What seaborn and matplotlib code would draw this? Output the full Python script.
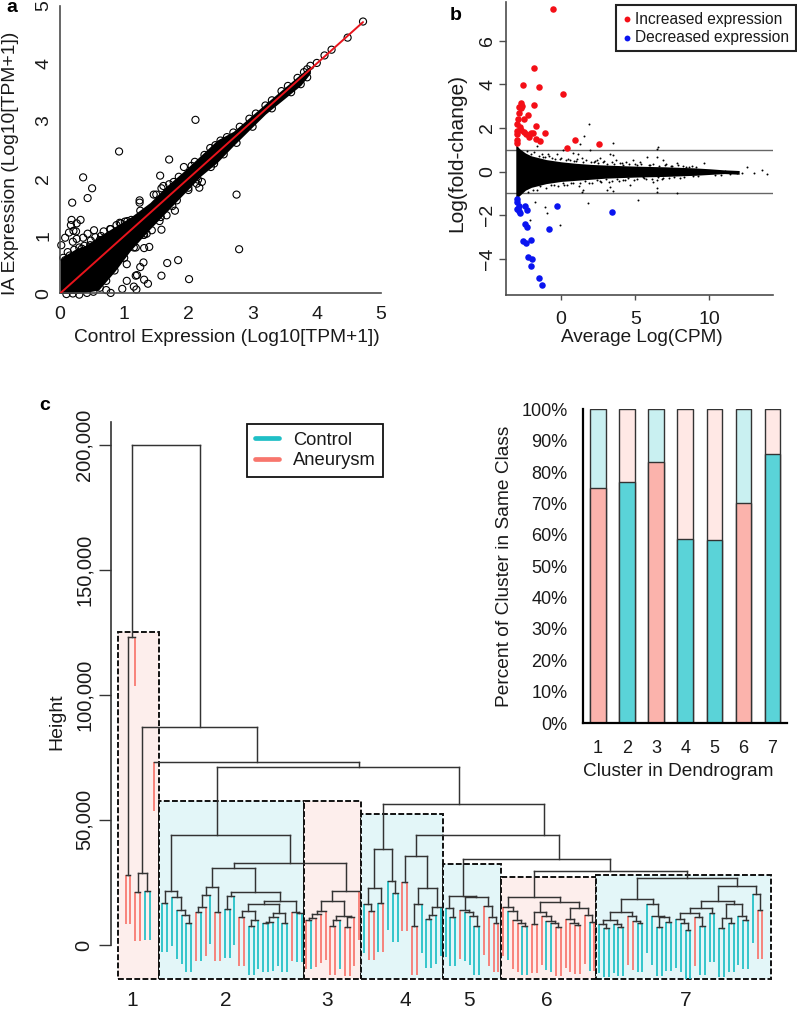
import matplotlib
matplotlib.use('Agg')
import matplotlib.pyplot as plt
import matplotlib.transforms as mtrans
from matplotlib.lines import Line2D
from matplotlib.patches import Rectangle
import seaborn as sns

W, H = 797, 1009

# Panel a: genes away from the diagonal band
a_out_x = [4.72, 4.48, 4.23, 4.12, 4.00, 2.11, 0.92, 1.70, 2.34, 2.10, 1.93, 1.56, 0.36, 0.50, 0.43, 0.19,
           1.46, 1.24, 1.24, 1.61, 1.58, 1.77, 2.75, 2.21, 2.13, 2.17, 2.00, 2.40, 1.79, 1.82, 1.66, 1.57,
           1.58, 2.79, 1.84, 1.67, 1.58, 2.01, 1.39, 1.31, 1.18, 1.04, 1.30, 1.25, 1.20, 1.18, 1.31, 1.37,
           1.04, 0.97, 1.15, 1.19, 0.79, 0.72, 0.18, 0.32, 0.26, 0.17, 0.21, 0.25, 0.14, 0.08, 0.02, 0.26,
           0.36, 0.53, 0.43, 0.79, 0.64, 0.93, 1.01, 0.88, 0.47, 0.34, 0.20, 1.35, 1.31, 1.43, 1.38, 1.51,
           1.61, 1.18, 1.11, 0.62, 1.09]
a_out_y = [4.73, 4.45, 4.24, 4.14, 4.01, 3.02, 2.47, 2.33, 2.53, 2.29, 2.20, 2.05, 2.02, 1.83, 1.66, 1.58,
           1.72, 1.62, 1.58, 1.87, 1.83, 1.94, 1.72, 1.94, 1.91, 1.84, 1.84, 2.26, 1.44, 1.62, 1.36, 1.33,
           1.11, 0.77, 0.58, 0.53, 0.31, 0.25, 0.81, 0.79, 0.80, 0.51, 0.54, 0.46, 0.32, 0.31, 0.24, 0.17,
           0.22, 0.08, 0.12, 0.07, 0.01, 0.06, 1.28, 1.28, 1.22, 1.19, 1.09, 1.08, 1.06, 0.97, 0.84, 0.95,
           0.97, 1.10, 1.04, 1.12, 1.00, 1.23, 1.25, 1.19, 0.84, 0.78, 0.90, 1.04, 1.02, 1.10, 1.22, 1.48,
           1.51, 1.28, 1.28, 0.93, 1.16]

# Panel a: circles sitting on the edges of the band
a_edge_x = [0.05, 0.08, 0.12, 0.15, 0.22, 0.30, 0.38, 0.48, 0.55, 0.68, 0.78, 0.95, 1.05, 1.25, 1.50, 1.70, 1.85,
            2.05, 2.25, 2.42, 2.50, 2.60, 2.70, 2.80, 2.95, 3.05, 3.20, 3.30, 3.45, 3.55, 3.70, 3.80, 3.85, 3.90,
            0.10, 0.20, 0.30, 0.42, 0.52, 0.62, 0.72, 0.85, 1.00, 1.15, 1.30, 1.55, 1.75, 2.00, 2.15, 2.35, 2.55,
            2.75, 3.00, 3.30, 3.60, 3.75, 3.85]
a_edge_y = [0.62, 0.58, 0.72, 0.66, 0.76, 0.80, 0.83, 0.92, 0.98, 1.08, 1.12, 1.22, 1.26, 1.44, 1.72, 1.90, 2.03,
            2.22, 2.41, 2.58, 2.66, 2.72, 2.80, 2.90, 3.04, 3.13, 3.27, 3.36, 3.52, 3.61, 3.75, 3.85, 3.90, 3.96,
            -0.01, 0.00, -0.02, 0.01, 0.03, 0.10, 0.22, 0.40, 0.62, 0.80, 1.02, 1.26, 1.52, 1.80, 1.98, 2.20, 2.42,
            2.62, 2.90, 3.22, 3.50, 3.64, 3.76]

# Panel a: outline of the solid band of overlapping circles
a_band_x = [0, 0.10, 0.25, 0.40, 0.60, 0.85, 1.10, 1.40, 1.65, 1.90, 2.20, 2.45, 2.70, 3.20, 3.75, 3.90]
a_band_up = [0.60, 0.68, 0.78, 0.84, 0.99, 1.16, 1.33, 1.58, 1.86, 2.10, 2.41, 2.67, 2.82, 3.30, 3.82, 3.96]
a_band_lo = [0, 0, 0, 0.02, 0.06, 0.38, 0.75, 1.12, 1.41, 1.70, 2.05, 2.28, 2.57, 3.12, 3.62, 3.83]

# Panel b: significant genes
up_x = [-0.56, -1.84, -2.54, -1.46, 0.11, -1.80, -2.67, -2.63, -2.83, -2.72, -2.20, -2.81, -2.47, -2.88, -2.94,
        -1.66, -2.76, -2.99, -2.99, -2.70, -2.47, -2.36, -1.91, -2.04, -2.13, -1.10, -1.66, -1.42, -2.94, -2.97,
        0.97, 2.54, 0.38]
up_y = [7.45, 4.73, 3.98, 3.86, 3.56, 3.04, 3.16, 3.01, 2.95, 2.90, 2.61, 2.67, 2.40, 2.41, 2.18,
        2.11, 2.06, 1.88, 1.73, 1.91, 1.80, 1.73, 1.79, 1.76, 1.60, 1.77, 1.50, 1.40, 1.45, 1.33,
        1.44, 1.25, 1.08]
down_x = [-2.94, -2.99, -2.85, -2.94, -2.81, -2.76, -2.40, -2.29, -0.29, 3.44, -2.45, -2.29, -0.81, -2.54, -2.36,
          -2.04, -2.20, -1.96, -2.02, -1.46, -1.26]
down_y = [-1.24, -1.40, -1.57, -1.73, -1.82, -1.91, -1.57, -1.74, -1.57, -1.86, -2.40, -2.55, -2.64, -3.16, -3.27,
          -3.13, -3.92, -3.98, -4.31, -4.85, -5.18]

# Panel b: stray small dots outside the dense cloud
ns_x = [1.87, 1.55, 1.28, 3.48, 6.52, 6.45, 12.52, 12.97, 13.53, 13.87, 11.06, 11.84, 12.18, 6.45, 6.49, 5.21,
        1.84, 1.39, 1.51, -1.75, -2.09, -1.08, -0.97, -0.07, 7.80, 3.08, 3.53, 3.30, 4.65, 6.22, 6.45, 5.55,
        3.53, 3.30, 4.88, 5.78, 6.45, 6.90, 7.80, 9.60, 2.63, 0.83, 1.17, -0.29, -0.85, -1.19, -1.64, 0.16, 1.96,
        -0.6, -0.1, 0.6, 1.0, 1.4, 2.2, 2.4, 2.9, 3.7, 4.1, 4.4, 5.0, 5.3, 6.0, 7.1, 7.5, 8.2, 8.6, 9.1,
        -0.5, 0.2, 0.7, 1.2, 2.1, 2.6, 3.2, 3.9, 4.3, 4.9, 5.7, 6.8, 7.3, 8.0, 9.2, 10.4, 10.8, 11.4]
ns_y = [2.18, 1.63, 1.27, 1.33, 1.11, 1.02, 0.23, -0.08, 0.08, -0.11, 0.05, -0.08, -0.08, -0.76, -0.92, -1.30,
        -1.45, -0.92, -0.84, -1.37, -2.21, -1.60, -1.91, -2.44, -0.96, -0.84, -0.87, -0.69, -0.61, -0.46, -0.38, -0.23,
        0.76, 0.81, 0.53, 0.66, 0.69, 0.53, 0.38, 0.38, 0.61, 0.84, 0.81, 0.81, 0.81, 0.69, 1.15, 0.99, 0.99,
        0.62, 0.58, 0.52, 0.50, 0.62, 0.46, 0.55, 0.48, 0.52, 0.40, 0.44, 0.35, 0.42, 0.30, 0.34, 0.25, 0.27, 0.22, 0.20,
        -0.62, -0.60, -0.52, -0.66, -0.50, -0.45, -0.48, -0.42, -0.40, -0.38, -0.33, -0.36, -0.28, -0.30, -0.20, -0.15, -0.14, -0.10]

# Panel b: more dots just off the rim of the cloud
rim_x = [-2.3, -2.0, -1.8, -1.5, -1.3, -1.1, -0.8, -0.4, 0.0, 0.3, 0.5, 0.9, 1.1, 1.5, 1.7, 2.0, 2.3, 2.5, 2.8, 3.1,
         3.4, 3.6, 4.0, 4.2, 4.6, 5.1, 5.4, 5.9, 6.2, 6.6, 7.0, 7.4, 7.9, 8.4, 8.8,
         -2.2, -1.9, -1.6, -1.4, -1.0, -0.7, -0.2, 0.1, 0.4, 0.8, 1.3, 1.6, 1.9, 2.4, 2.7, 3.0, 3.4, 3.8, 4.2, 4.5,
         5.1, 5.6, 6.1, 6.5, 6.9, 7.6, 8.3, 8.9]
rim_y = [0.95, 0.82, 0.88, 0.72, 0.80, 0.66, 0.70, 0.60, 0.64, 0.52, 0.60, 0.50, 0.56, 0.44, 0.52, 0.42, 0.48, 0.38, 0.42, 0.36,
         0.44, 0.34, 0.38, 0.30, 0.36, 0.30, 0.34, 0.28, 0.36, 0.26, 0.30, 0.24, 0.28, 0.22, 0.24,
         -0.92, -0.82, -0.86, -0.68, -0.74, -0.62, -0.66, -0.54, -0.60, -0.50, -0.54, -0.44, -0.50, -0.40, -0.46, -0.36, -0.42, -0.34, -0.38, -0.30,
         -0.34, -0.28, -0.34, -0.26, -0.30, -0.24, -0.24, -0.22]

# Panel b: outline of the dense cloud
cloud_x = [-3.05, -2.8, -2.4, -2, -1, 0, 1, 2, 3, 5, 7, 9, 10, 11, 12]
cloud_up = [1.25, 1.05, 0.85, 0.72, 0.55, 0.45, 0.38, 0.33, 0.30, 0.25, 0.22, 0.17, 0.13, 0.08, 0.05]
cloud_lo = [-1.25, -1.10, -0.85, -0.72, -0.55, -0.45, -0.40, -0.35, -0.30, -0.25, -0.22, -0.17, -0.13, -0.09, -0.12]

# Panel c inset
clusters = ['1', '2', '3', '4', '5', '6', '7']
same_class = [75.0, 76.7, 83.3, 58.8, 58.3, 70.0, 85.7]
whole = [100, 100, 100, 100, 100, 100, 100]
cluster_class = ['A', 'C', 'A', 'C', 'C', 'A', 'C']
pct_labels = ['0%', '10%', '20%', '30%', '40%', '50%', '60%', '70%', '80%', '90%', '100%']

# Panel c dendrogram, heights in thousands. Node = (height, left, right[, stem position]).
A, C = 'A', 'C'
c2_left = (21.7, (16.9, C, C), (19.3, C, (14, C, (12.1, C, (8.9, C, C)))))
c2_mid = (23.3, (19.9, (15.3, (13.1, A, C), A), C), (13.3, A, A))
c2_right = (21.3, (19.6, (14.4, C, C), C),
            (17.7, (16.4, (13.7, (11.3, A, A), (10, (7.7, C, C), C)),
                    (12.7, (11.3, (9.3, (8.9, C, C), C), C), (8.9, C, C))),
             (13.3, A, (12.8, C, C))))
c3 = (21.7, (17.7, (13.7, (12.4, (10.7, (10, A, C), A), A), A),
             (11.6, (10, (7.7, A, A), C), (11.2, (7.3, A, A), A))), A)
c4_left = (38.3, (22.9, (16.4, C, (13.6, A, A)), (16.6, C, A)), (25.7, C, (20.9, C, C)))
c4_right = (35.6, (25, A, A), (22.7, (16.4, (7.7, A, A), C), (15, (12.1, (10.4, C, C), C), C)))
c5 = (19.6, (14.7, C, (11.3, C, C)),
      (19.3, (14, A, (13.1, C, (11.6, C, (7.7, C, C)))), (15.7, A, (11.2, A, (8.7, A, A)))))
c6 = (19.3, (15.2, A, (13.6, C, (9.9, A, (8.7, A, (7.7, C, C))))),
      (17.3, (13.3, (8.4, A, A), (11.6, A, (9.7, C, (8.7, C, (7.3, A, A))))),
       (14.7, (10.4, A, (8.7, A, (8, A, A))), (12, A, (9.1, C, A)))))
c7 = (26.7, (18.4, (13.3, (10, (8.4, C, (6.7, C, C)), (8.4, C, (7.3, C, C))), (11.7, A, (9.6, A, (8.9, C, C)))),
             (16.3, C, (11.6, C, (11.2, (7, C, C), (9.3, C, C))))),
      (23.6, (17.6, (14.7, (12.7, (10.3, C, (8.7, C, (6, C, C))), (11.3, A, (7.6, C, C))), (12.9, C, C)),
              (16.4, (10.7, (6.7, C, C), (8.7, C, C)), (11.7, C, (10, C, C)))),
       (20.5, C, (14, A, A))))
c1_left = (123, (28, A, A), A)
c1_right = (28.7, (21.3, A, A), (21.7, C, C))
rest = (71, (43.9, c2_left, (32.9, (30.7, c2_mid, c2_right), c3), 0.387),
        (56.3, c4_left, (44, c4_right, (34.3, c5, (29.6, c6, c7), 0.65), 0.895), 0.47), 0.59)
tree = (200, c1_left, (87.3, c1_right, (73.3, A, rest)))

hang = 19.6
leaf_advance = {2: 0.0, 7: 1.65}  # leaf 3 hangs over leaf 4, small gap before cluster 2

box_left = [-1.54, 6.94, 37.15, 49.0, 66.2, 78.2, 98.0]
box_right = [6.94, 37.15, 49.0, 66.2, 78.2, 98.0, 134.4]
box_top = [125, 57.7, 57.7, 52.4, 32.4, 27.3, 28.1]
box_bottom = -13.6
cluster_label_px = [131.7, 226, 326.7, 405, 469, 547.3, 685.7]

RED, CYAN = '#F8766D', '#1FBFC6'
LIGHT = {'A': '#FDEEEC', 'C': '#E3F6F8'}
BAR_DARK = {'A': '#FBB3AC', 'C': '#5AD3D8'}
BAR_LIGHT = {'A': '#FFE8E5', 'C': '#C9F0F1'}
TEXT = '#1a1a1a'

sns.set_theme(style='white')
plt.rcParams['font.family'] = ['Liberation Sans', 'DejaVu Sans']
plt.rcParams['text.color'] = TEXT
plt.rcParams['axes.labelcolor'] = TEXT
plt.rcParams['xtick.color'] = TEXT
plt.rcParams['ytick.color'] = TEXT

fig = plt.figure(figsize=(W / 100, H / 100), dpi=100)
# pixel coordinates, origin top left
px = mtrans.Affine2D().scale(1 / W, -1 / H).translate(0, 1) + fig.transFigure


def px_axes(left, top, right, bottom):
    return fig.add_axes([left / W, 1 - bottom / H, (right - left) / W, (bottom - top) / H])


def style_axis(ax, color='#4d4d4d', lw=1.2):
    sns.despine(ax=ax)
    for side in ['left', 'bottom']:
        ax.spines[side].set_color(color)
        ax.spines[side].set_linewidth(lw)


def rotate_yticks(ax):
    for label in ax.get_yticklabels():
        label.set_rotation(90)
        label.set_va('center')


# Panel a
ax_a = px_axes(60, 6, 381, 293.5)
ax_a.fill_between(a_band_x, a_band_lo, a_band_up, color='black', lw=0, clip_on=False)
sns.scatterplot(x=a_out_x + a_edge_x, y=a_out_y + a_edge_y, s=26, facecolor='none', edgecolor='black',
                linewidth=0.8, clip_on=False, ax=ax_a)
ax_a.plot([0, 4.72], [0, 4.72], color='#E8141C', lw=1.4, zorder=5)
ax_a.set_xlim(0, 5)
ax_a.set_ylim(0, 5)
ax_a.set_xticks(range(6))
ax_a.set_yticks(range(6))
ax_a.tick_params(axis='x', length=0, pad=9, labelsize=14)
ax_a.tick_params(axis='y', length=0, pad=5.5, labelsize=14)
rotate_yticks(ax_a)
style_axis(ax_a)
ax_a.set_xlabel('Control Expression (Log10[TPM+1])', fontsize=13.8, va='center')
ax_a.xaxis.set_label_coords(226.7, 337, transform=px)
ax_a.set_ylabel('IA Expression (Log10[TPM+1])', fontsize=13.9, va='center')
ax_a.yaxis.set_label_coords(10.5, 163, transform=px)

# Panel b
ax_b = px_axes(505.7, 1.7, 773.3, 295)
ax_b.axhline(1, color='#666666', lw=1, zorder=1)
ax_b.axhline(-1, color='#666666', lw=1, zorder=1)
ax_b.fill_between(cloud_x, cloud_lo, cloud_up, color='black', lw=0, zorder=2)
sns.scatterplot(x=ns_x + rim_x, y=ns_y + rim_y, s=2, color='black', linewidth=0, zorder=2, ax=ax_b)
sns.scatterplot(x=up_x, y=up_y, s=22, color='#F40F17', linewidth=0, zorder=3, label='Increased expression', ax=ax_b)
sns.scatterplot(x=down_x, y=down_y, s=22, color='#0A14F0', linewidth=0, zorder=3, label='Decreased expression', ax=ax_b)
ax_b.set_xlim(-3.73, 14.3)
ax_b.set_ylim(-5.65, 7.78)
ax_b.set_xticks([0, 5, 10])
ax_b.set_yticks([-4, -2, 0, 2, 4, 6])
ax_b.tick_params(axis='x', length=3.6, width=1, color='#4d4d4d', pad=8, labelsize=14, bottom=True)
ax_b.tick_params(axis='y', length=4.8, width=1, color='#4d4d4d', pad=2, labelsize=14, left=True)
rotate_yticks(ax_b)
style_axis(ax_b)
ax_b.set_xlabel('Average Log(CPM)', fontsize=13.7, va='center')
ax_b.xaxis.set_label_coords(642, 337, transform=px)
ax_b.set_ylabel('Log(fold-change)', fontsize=15, va='center')
ax_b.yaxis.set_label_coords(456.5, 153, transform=px)
leg_b = ax_b.legend(loc='upper right', bbox_to_anchor=(796, 5), bbox_transform=px, borderaxespad=0, frameon=True,
                    fancybox=False, edgecolor='#222222', framealpha=1, fontsize=11.2, markerscale=0.9,
                    handlelength=0.6, handletextpad=0.25, labelspacing=0.22, borderpad=0.42)
leg_b.get_frame().set_linewidth(1.5)

# Panel c dendrogram
ax_c = px_axes(111, 421.7, 797, 985)
ax_c.set_xlim(-3.06, 139.85)
ax_c.set_ylim(-16, 209.2)
for left, right, top, kind in zip(box_left, box_right, box_top, cluster_class):
    ax_c.add_patch(Rectangle((left, box_bottom), right - left, top - box_bottom, facecolor=LIGHT[kind],
                             edgecolor='#111111', linestyle=(0, (3, 1.2)), lw=1.4, zorder=1))

merge_lines = []
leaf_lines = []
next_x = 0.0
leaf_count = 0


def draw_node(node, parent_height):
    # Walk the tree left to right, return the x of the stem
    global next_x, leaf_count
    if isinstance(node, str):
        x = next_x
        next_x += leaf_advance.get(leaf_count, 1.0)
        leaf_count += 1
        leaf_lines.append((x, parent_height, parent_height - hang, node))
        return x
    height, left, right = node[:3]
    stem = node[3] if len(node) > 3 else 0.5
    x_left = draw_node(left, height)
    x_right = draw_node(right, height)
    if not isinstance(left, str):
        merge_lines.append(([x_left, x_left], [left[0], height]))
    if not isinstance(right, str):
        merge_lines.append(([x_right, x_right], [right[0], height]))
    merge_lines.append(([x_left, x_right], [height, height]))
    return x_left + stem * (x_right - x_left)


draw_node(tree, tree[0])
for xs, ys in merge_lines:
    ax_c.plot(xs, ys, color='#333333', lw=1.05, solid_capstyle='projecting', zorder=3)
for x, top, bottom, kind in leaf_lines:
    ax_c.plot([x, x], [top, bottom], color=RED if kind == 'A' else CYAN, lw=1.25, solid_capstyle='butt', zorder=2)

ax_c.patch.set_alpha(0)
ax_c.set_yticks([0, 50, 100, 150, 200])
ax_c.set_yticklabels(['0', '50,000', '100,000', '150,000', '200,000'])
ax_c.set_xticks([])
ax_c.tick_params(axis='y', length=8.6, width=1, color='#333333', pad=4, labelsize=14.5, left=True)
rotate_yticks(ax_c)
style_axis(ax_c, color='#333333')
ax_c.spines['bottom'].set_visible(False)
ax_c.spines['left'].set_bounds(0, 209.2)
ax_c.set_ylabel('Height', fontsize=14, va='center')
ax_c.yaxis.set_label_coords(57, 722, transform=px)
for label, x in zip(clusters, cluster_label_px):
    ax_c.text(x, 1000, label, transform=px, ha='center', va='center', fontsize=15, clip_on=False)

handles = [Line2D([], [], color=CYAN, lw=3.4), Line2D([], [], color=RED, lw=3.4)]
leg_c = ax_c.legend(handles, ['Control', 'Aneurysm'], loc='upper left', bbox_to_anchor=(247, 424), bbox_transform=px,
                    borderaxespad=0, frameon=True, fancybox=False, edgecolor='#111111', framealpha=1, fontsize=13.2,
                    handlelength=1.32, handletextpad=0.75, labelspacing=0.18, borderpad=0.42)
leg_c.get_frame().set_linewidth(1.3)

# Panel c inset
ax_d = px_axes(582.7, 409.3, 786.7, 723)
ax_d.patch.set_alpha(0)
sns.barplot(x=clusters, y=whole, hue=clusters, palette=[BAR_LIGHT[k] for k in ['C', 'A', 'C', 'A', 'A', 'C', 'A']],
            width=0.527, edgecolor='#333333', linewidth=1, saturation=1, legend=False, ax=ax_d)
sns.barplot(x=clusters, y=same_class, hue=clusters, palette=[BAR_DARK[k] for k in cluster_class],
            width=0.527, edgecolor='#333333', linewidth=1, saturation=1, legend=False, ax=ax_d)
ax_d.set_xlim(-0.52, 6.49)
ax_d.set_ylim(0, 100)
ax_d.set_yticks(range(0, 101, 10))
ax_d.set_yticklabels(pct_labels)
ax_d.tick_params(axis='x', length=0, pad=12, labelsize=13)
ax_d.tick_params(axis='y', length=0, pad=11, labelsize=13)
style_axis(ax_d, color='black', lw=1.6)
ax_d.set_xlabel('Cluster in Dendrogram', fontsize=13.7, va='center')
ax_d.xaxis.set_label_coords(678, 772, transform=px)
ax_d.set_ylabel('Percent of Cluster in Same Class', fontsize=13.8, va='center')
ax_d.yaxis.set_label_coords(505, 566, transform=px)

# Panel letters
for letter, x, y in [('a', 12, 8), ('b', 456, 15), ('c', 45, 405)]:
    fig.text(x / W, 1 - y / H, letter, fontsize=14, fontweight='bold', color='black', ha='center', va='center')

fig.savefig('out.png', dpi=100)
